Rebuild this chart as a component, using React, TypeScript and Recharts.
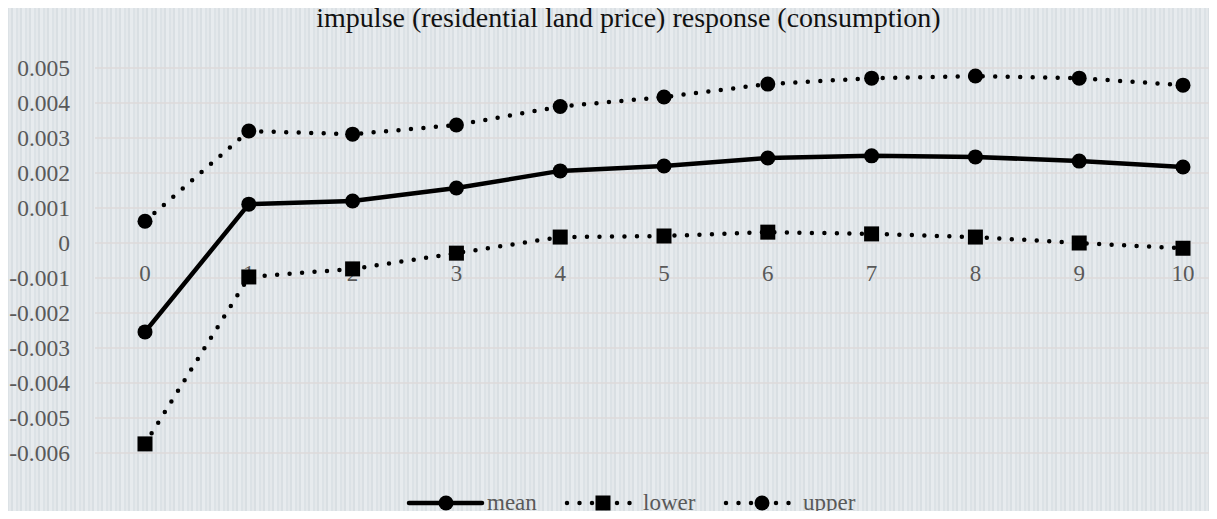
import React from 'react';
import { LineChart, Line, XAxis, YAxis, CartesianGrid, ReferenceDot } from 'recharts';

// horizon (periods after the impulse)
const periods = [0, 1, 2, 3, 4, 5, 6, 7, 8, 9, 10];
const meanValues = [-0.00254, 0.00111, 0.0012, 0.00157, 0.00206, 0.0022, 0.00243, 0.00249, 0.00246, 0.00234, 0.00217];
const lowerValues = [-0.00574, -0.00097, -0.00074, -0.00029, 0.00017, 0.0002, 0.00031, 0.00026, 0.00017, 0.0, -0.00015];
const upperValues = [0.00062, 0.0032, 0.00311, 0.00337, 0.0039, 0.00417, 0.00454, 0.00471, 0.00477, 0.00471, 0.00451];
const yTicks = [-0.006, -0.005, -0.004, -0.003, -0.002, -0.001, 0, 0.001, 0.002, 0.003, 0.004, 0.005];

const title = 'impulse (residential land price) response (consumption)';

const data = periods.map((p, i) => ({
  period: p,
  mean: meanValues[i],
  lower: lowerValues[i],
  upper: upperValues[i],
}));

const FONT = "'Liberation Serif', 'Times New Roman', serif";
const LABEL = '#595959';

const SquareDot = (props: any) => {
  const { cx, cy, index } = props;
  if (cx == null || cy == null) return null;
  return <rect key={`sq-${index}`} x={cx - 7.5} y={cy - 7.5} width={15} height={15} fill="#000" />;
};

const fmt = (v: number) => (v === 0 ? '0' : v.toFixed(3));

const YTick = (props: any) => {
  const { x, y, payload } = props;
  return (
    <text x={x} y={y} dy="0.35em" textAnchor="end" fill={LABEL} style={{ fontFamily: FONT, fontSize: 23.5 }}>
      {fmt(payload.value)}
    </text>
  );
};

// category labels sit just under the zero line, like Excel's crossing axis
const periodLabel = (p: number) => (props: any) => {
  const vb = props.viewBox || {};
  return (
    <text
      x={vb.x + vb.width / 2}
      y={vb.y + vb.height + 29}
      dy="0.35em"
      textAnchor="middle"
      fill={LABEL}
      style={{ fontFamily: FONT, fontSize: 23 }}
    >
      {String(p)}
    </text>
  );
};

const legendText: React.CSSProperties = { position: 'absolute', top: 0, fontSize: 23, color: LABEL, lineHeight: '28px' };

export default function App() {
  return (
    <div
      style={{
        position: 'relative',
        width: 1217,
        height: 519,
        margin: -8,
        fontFamily: FONT,
        background:
          'repeating-linear-gradient(90deg, #e4e8eb 0px, #e4e8eb 2px, #d9dfe3 2px, #d9dfe3 4px, #e7ebee 4px, #e7ebee 7px, #dce2e6 7px, #dce2e6 9px)',
        overflow: 'hidden',
      }}
    >
      <div
        style={{
          position: 'absolute',
          top: 2,
          left: 0,
          width: 1257,
          textAlign: 'center',
          fontSize: 28,
          color: '#111',
        }}
      >
        {title}
      </div>

      <LineChart width={1217} height={519} data={data} margin={{ top: 68, right: 0, bottom: 66, left: 0 }}>
        <CartesianGrid vertical={false} stroke="#dedada" strokeWidth={1.5} />
        <XAxis dataKey="period" hide padding={{ left: 50, right: 34 }} />
        <YAxis
          type="number"
          domain={[-0.006, 0.005]}
          ticks={yTicks}
          width={95}
          axisLine={false}
          tickLine={false}
          tickMargin={19}
          tick={YTick}
          interval={0}
        />
        {periods.map((p) => (
          <ReferenceDot
            key={`lbl-${p}`}
            x={p}
            y={0}
            r={1}
            fill="none"
            stroke="none"
            label={{ content: periodLabel(p) }}
          />
        ))}
        <Line
          dataKey="upper"
          stroke="#000"
          strokeWidth={4.5}
          strokeDasharray="0 12.5"
          strokeLinecap="round"
          dot={{ r: 7.5, fill: '#000', stroke: 'none' }}
          isAnimationActive={false}
        />
        <Line
          dataKey="lower"
          stroke="#000"
          strokeWidth={4.5}
          strokeDasharray="0 12.5"
          strokeLinecap="round"
          dot={SquareDot}
          isAnimationActive={false}
        />
        <Line
          dataKey="mean"
          stroke="#000"
          strokeWidth={4.5}
          dot={{ r: 7.5, fill: '#000', stroke: 'none' }}
          isAnimationActive={false}
        />
      </LineChart>

      {/* legend */}
      <div style={{ position: 'absolute', top: 489, left: 0, width: 1217, height: 28 }}>
        <svg style={{ position: 'absolute', left: 405, top: 2 }} width={80} height={24}>
          <line x1={4} y1={12} x2={77} y2={12} stroke="#000" strokeWidth={4.5} strokeLinecap="round" />
          <circle cx={41} cy={12} r={7.5} fill="#000" />
        </svg>
        <span style={{ ...legendText, left: 487 }}>mean</span>
        <svg style={{ position: 'absolute', left: 563, top: 2 }} width={76} height={24}>
          <line x1={4} y1={12} x2={72} y2={12} stroke="#000" strokeWidth={4.5} strokeDasharray="0 12.5" strokeLinecap="round" />
          <rect x={32.5} y={4.5} width={15} height={15} fill="#000" />
        </svg>
        <span style={{ ...legendText, left: 643 }}>lower</span>
        <svg style={{ position: 'absolute', left: 722, top: 2 }} width={76} height={24}>
          <line x1={4} y1={12} x2={72} y2={12} stroke="#000" strokeWidth={4.5} strokeDasharray="0 12.5" strokeLinecap="round" />
          <circle cx={40} cy={12} r={7.5} fill="#000" />
        </svg>
        <span style={{ ...legendText, left: 803 }}>upper</span>
      </div>
    </div>
  );
}
